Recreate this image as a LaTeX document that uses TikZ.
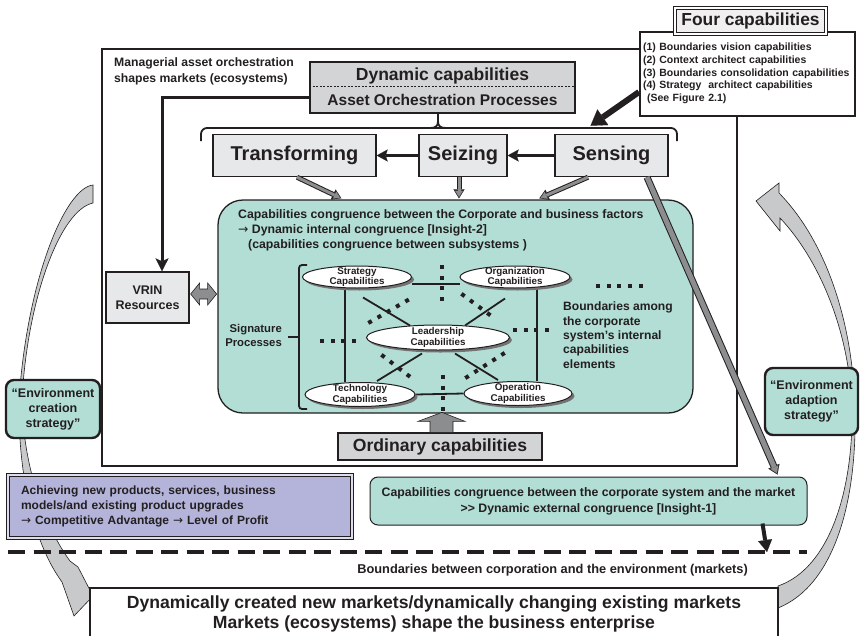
\documentclass[tikz,border=0pt]{standalone}
\usepackage{fontspec}
\setmainfont{Liberation Sans}
\newfontfamily\arrowfont{DejaVu Sans}
\usetikzlibrary{arrows.meta,shadows,calc,shapes.geometric}
\pgfdeclarelayer{back}
\pgfdeclarelayer{mid}
\pgfsetlayers{back,mid,main}

\definecolor{ink}{RGB}{35,31,32}
\definecolor{tealfill}{RGB}{178,222,213}
\definecolor{boxgray}{RGB}{211,212,214}
\definecolor{lightbox}{RGB}{231,232,233}
\definecolor{lavender}{RGB}{180,180,218}
\definecolor{arrowgray}{RGB}{140,141,143}
\definecolor{curvegray}{RGB}{200,201,203}

\newcommand\fs[2]{\fontsize{#1pt}{#2pt}\selectfont\bfseries}
\newcommand\rarr{{\arrowfont\mdseries →}}

\tikzset{
  box/.style={draw=ink, line width=1.3pt, inner sep=0pt, text=ink, align=center},
  procbox/.style={box, fill=lightbox, line width=1.4pt, minimum height=42pt, font=\fs{20}{24}},
  strategybox/.style={box, fill=tealfill, rounded corners=8pt, line width=2.4pt, font=\fs{12.5}{15}},
  capnode/.style={ellipse, draw=ink, line width=1pt, fill=white, inner sep=0pt,
    drop shadow={shadow xshift=2.5pt, shadow yshift=-2.5pt, fill=black!55, opacity=1}},
  captext/.style={font=\fs{9.8}{10.5}, align=center, text=ink, inner sep=0pt},
  link/.style={draw=ink, line width=1.8pt},
  dots/.style={draw=ink, line width=4pt, dash pattern=on 4pt off 6.7pt},
  plain/.style={text=ink, inner sep=0pt},
  garrowout/.style={draw=ink, line width=5pt, -{Triangle[length=9pt,width=11pt,line width=0.1pt]}},
  garrowin/.style={draw=arrowgray, line width=3pt, shorten >=1.5pt, -{Triangle[length=6pt,width=7.5pt,line width=0.1pt]}},
  blockarrow/.style={fill=arrowgray, draw=ink, line width=0.6pt, line join=miter},
  curvearrow/.style={fill=curvegray, draw=ink, line width=0.6pt, line join=miter},
  heavyarrow/.style={draw=ink, line width=3pt, -{Stealth[length=11pt,width=12pt,inset=2pt,line width=0.1pt]}},
}

\begin{document}
\begin{tikzpicture}[x=1pt, y=-1pt]
\useasboundingbox (0,0) rectangle (860,635);

% ---------- background: curved strategy arrows, outer frame, internal congruence area
\begin{pgfonlayer}{back}
  % environment creation (left, pointing down to the markets)
  \path[curvearrow]
    (93,185) .. controls (65,188) and (27,280) .. (19,400)
    .. controls (18,480) and (35,545) .. (62,582)
    -- (74,616) -- (93,596) -- (78,567) -- (70,561)
    .. controls (47,530) and (23,470) .. (22,400)
    .. controls (27,300) and (60,210) .. (93,203) -- cycle;
  % environment adaption (right, pointing up to the corporation)
  \path[curvearrow]
    (778,608) .. controls (835,585) and (857,500) .. (855,410)
    .. controls (853,320) and (825,240) .. (779,193)
    -- (779,183) -- (756,201) -- (780,231) -- (780,218)
    .. controls (818,258) and (850,330) .. (852,410)
    .. controls (853,490) and (830,568) .. (778,586) -- cycle;

  \node[draw=ink, line width=2.2pt, minimum width=635pt, minimum height=417pt, inner sep=0pt] (frame) at (419.5,257.5) {};
  \node[box, fill=tealfill, rounded corners=25pt, minimum width=475pt, minimum height=213pt] (teal) at (455.5,306.5) {};
\end{pgfonlayer}

% ---------- dynamic capabilities
\node[plain, anchor=north west, align=left, font=\fs{12.2}{16}] (mgr) at (114,57)
  {Managerial asset orchestration\\shapes markets (ecosystems)};
\node[box, fill=boxgray, minimum width=265pt, minimum height=51pt] (dyn) at (442.5,87.5) {};
\draw[ink, line width=0.6pt, dash pattern=on 2pt off 1.5pt] ([yshift=1.5pt]dyn.west) -- ([yshift=1.5pt]dyn.east);
\node[plain, anchor=base, font=\fs{17.5}{20}] (dyntop) at (442.5,80) {Dynamic capabilities};
\node[plain, anchor=base, font=\fs{15.5}{18}] (dynbot) at (442.5,105) {Asset Orchestration Processes};

% brace under the orchestration processes
\draw[ink, line width=1.8pt, rounded corners=6pt] (201,141) -- (201,128) -- (677,128) -- (677,141);
\draw[ink, line width=1.8pt] (430,128) .. controls (436,128) and (438,126) .. (438,121) -- (438,113);
\draw[ink, line width=1.8pt] (446,128) .. controls (440,128) and (438,126) .. (438,121);

% ---------- four capabilities
\node[box, fill=white, line width=2pt, minimum width=215pt, minimum height=84pt,
      text width=209pt, align=left, font=\fs{10.5}{12.8}] (fourl) at (747.5,73.5)
  {(1) Boundaries vision capabilities\\
   (2) Context architect capabilities\\
   (3) Boundaries consolidation capabilities\\
   (4) Strategy\ \ architect capabilities\\
   \hspace*{4pt}(See Figure 2.1)};
\node[box, fill=black!6, line width=1pt, double=white, double distance=1.3pt,
      minimum width=151pt, minimum height=26pt, font=\fs{17.4}{20}] (fourt) at (750.5,21) {Four capabilities};

% ---------- sensing, seizing, transforming
\node[procbox, minimum width=163pt] (transf) at (294.5,155.5) {Transforming};
\node[procbox, minimum width=88pt] (seize) at (463,155.5) {Seizing};
\node[procbox, minimum width=113pt] (sense) at (611.5,155.5) {Sensing};

\draw[heavyarrow] (sense.west) -- (seize.east);
\draw[heavyarrow] (seize.west) -- (transf.east);
\draw[draw=ink, line width=6pt, -{Triangle[length=15pt,width=19pt,line width=0.1pt]}]
  ([yshift=-18.5pt]fourl.west) -- ($(sense.north)+(-21,-8)$);

% ---------- VRIN resources
\node[box, fill=lightbox, minimum width=83pt, minimum height=51pt, font=\fs{12.5}{15}] (vrin) at (147.5,297.5) {VRIN\\Resources};
\draw[draw=ink, line width=3pt, -{Stealth[length=13pt,width=13pt,inset=3pt,line width=0.1pt]}]
  ([yshift=-9.5pt]dyn.west) -| ([xshift=14.5pt]vrin.north);
\path[blockarrow] ([shift={(1,-3.5)}]vrin.east) -- ++(9,-11) -- ++(0,6) -- ++(8,0) -- ++(0,-6)
  -- ++(9,11) -- ++(-9,11) -- ++(0,-6) -- ++(-8,0) -- ++(0,6) -- cycle;

% ---------- internal congruence
\node[plain, anchor=north west, align=left, font=\fs{12.3}{15}] (tealtxt) at (238,209.5)
  {Capabilities congruence between the Corporate and business factors\\
   \rarr\ Dynamic internal congruence [Insight-2]\\
   \hspace*{10pt}(capabilities congruence between subsystems )};

\draw[garrowout] ([xshift=2.5pt]transf.south) -- ($(teal.north west)+(124,-1)$);
\draw[garrowin]  ([xshift=2.5pt]transf.south) -- ($(teal.north west)+(124,-1)$);
\draw[garrowout] ([xshift=-4pt]seize.south) -- ([xshift=-4pt,yshift=1pt]seize.south |- teal.north);
\draw[garrowin]  ([xshift=-4pt]seize.south) -- ([xshift=-4pt,yshift=1pt]seize.south |- teal.north);
\draw[garrowout] ([xshift=-23.5pt]sense.south) -- ($(teal.north west)+(322,-1)$);
\draw[garrowin]  ([xshift=-23.5pt]sense.south) -- ($(teal.north west)+(322,-1)$);

\node[plain, anchor=east, align=right, font=\fs{11.3}{14}] (sig) at (282,335) {Signature\\Processes};
\draw[ink, line width=1.8pt, rounded corners=3pt] (307,265) -- (299,265) -- (299,409) -- (307,409);
\draw[ink, line width=1.8pt] (288,337) -- (299,337);

\node[capnode, minimum width=109pt, minimum height=22pt, label={[captext]center:{Strategy\\Capabilities}}] (strat) at (357,277) {};
\node[capnode, minimum width=110pt, minimum height=22pt, label={[captext]center:{Organization\\Capabilities}}] (org) at (515,277) {};
\node[capnode, minimum width=143pt, minimum height=25pt, label={[captext]center:{Leadership\\Capabilities}}] (lead) at (438,337.5) {};
\node[capnode, minimum width=110pt, minimum height=24pt, label={[captext]center:{Technology\\Capabilities}}] (tech) at (360,394.5) {};
\node[capnode, minimum width=108pt, minimum height=24pt, label={[captext]center:{Operation\\Capabilities}}] (oper) at (518,393.5) {};

\begin{pgfonlayer}{mid}
  \draw[link] ([yshift=-7pt]strat.east) -- ([yshift=-7pt]org.west);
  \draw[link] (tech.east) -- (oper.west);
  \draw[link] ([xshift=-12pt]strat.south) -- ([xshift=-15pt]tech.north);
  \draw[link] ([xshift=22pt]org.south) -- ([xshift=19pt]oper.north);
  \draw[link] ([xshift=6pt,yshift=-9pt]strat.south) -- ([xshift=-28pt,yshift=-1pt]lead.north);
  \draw[link] ([xshift=-10pt,yshift=-10pt]org.south) -- ([xshift=27pt,yshift=-1pt]lead.north);
  \draw[link] ([xshift=-16pt,yshift=-3pt]lead.south) -- ([xshift=17pt,yshift=1pt]tech.north);
  \draw[link] ([xshift=17pt,yshift=-3pt]lead.south) -- ([xshift=-20pt,yshift=1pt]oper.north);
\end{pgfonlayer}

% boundaries between the internal capability elements
\draw[dots] (442,265) -- (442,301);
\draw[dots] (443,375) -- (443,411);
\draw[dots] (320,341) -- (356,341);
\draw[dots] (513,330) -- (549,330);
\draw[dots] (596,286) -- (643,286);
\draw[dots] (368.3,323) -- (409.7,299);
\draw[dots] (461.4,293.8) -- (491.6,316.2);
\draw[dots] (381.4,354.8) -- (410.6,377.2);
\draw[dots] (465.3,378.1) -- (504.7,352.9);

\node[plain, anchor=north west, align=left, font=\fs{12.1}{14.3}] (bnd) at (563,302)
  {Boundaries among\\the corporate\\system's internal\\capabilities\\elements};

% ---------- ordinary capabilities
\node[box, fill=boxgray, minimum width=204pt, minimum height=27pt, font=\fs{17.6}{20}] (ord) at (440,446.5) {Ordinary capabilities};
\path[blockarrow] ($(ord.north)+(-10,0)$) -- ++(0,-11) -- ++(-12,0) -- ++(24,-9) -- ++(23,9) -- ++(-12,0) -- ++(0,11) -- cycle;

% ---------- strategies
\node[strategybox, minimum width=94pt, minimum height=58pt] (create) at (53,409) {“Environment\\creation\\strategy”};
\node[strategybox, minimum width=93pt, minimum height=67pt] (adapt) at (811.5,401.5) {“Environment\\adaption\\strategy”};

% ---------- outcomes and external congruence
\node[box, fill=lavender, line width=0.9pt, double=lavender!45, double distance=1.6pt,
      minimum width=344pt, minimum height=63pt, text width=318pt, align=left, font=\fs{12}{15}] (achieve) at (180,506.5)
  {Achieving new products, services, business\\
   models/and existing product upgrades\\
   \rarr\ Competitive Advantage \rarr\ Level of Profit};
\node[box, fill=tealfill, rounded corners=8pt, line width=1pt, minimum width=437pt, minimum height=48pt, font=\fs{12.3}{16}] (ext) at (588.5,501)
  {Capabilities congruence between the corporate system and the market\\
   >\kern0pt> Dynamic external congruence [Insight-1]};

\draw[draw=ink, line width=7pt, -{Triangle[length=9pt,width=12pt,line width=0.1pt]}] ([xshift=35.5pt]sense.south) -- ($(ext.north east)+(-30,-2)$);
\draw[draw=arrowgray, line width=5pt, shorten >=1.5pt, -{Triangle[length=6.5pt,width=8.5pt,line width=0.1pt]}] ([xshift=35.5pt]sense.south) -- ($(ext.north east)+(-30,-2)$);

% ---------- boundary between corporation and markets
\coordinate (bl) at (8,552);
\coordinate (br) at (807,552);
\coordinate (hit) at (767,552);
\draw[ink, line width=4.5pt, dash pattern=on 17pt off 8.5pt] (bl) -- (br);
\draw[draw=ink, line width=4pt, -{Triangle[length=12pt,width=14pt,line width=0.1pt]}] ($(ext.south east)+(-45,-2)$) -- (hit);
\node[plain, anchor=base east, font=\fs{12.8}{15}] (bndtxt) at (748,573) {Boundaries between corporation and the environment (markets)};

% ---------- markets
\node[box, fill=white, line width=2.2pt, minimum width=688pt, minimum height=52pt, font=\fs{17.6}{20}] (market) at (434,614)
  {Dynamically created new markets/dynamically changing existing markets\\
   Markets (ecosystems) shape the business enterprise};
\end{tikzpicture}
\end{document}
